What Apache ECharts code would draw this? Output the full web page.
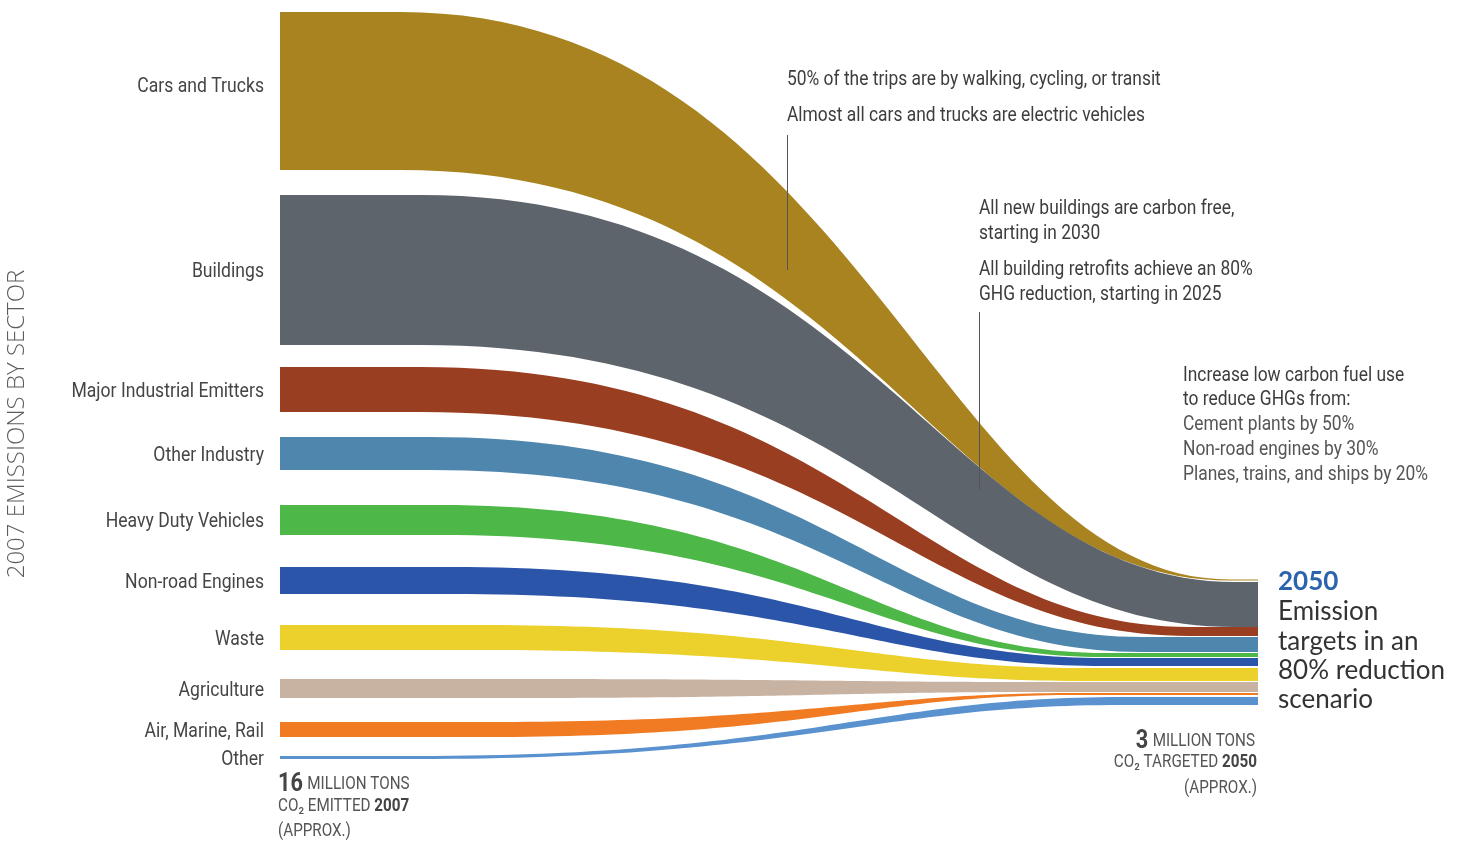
<!DOCTYPE html>
<html>
<head>
<meta charset="utf-8">
<script src="https://cdn.jsdelivr.net/npm/echarts@6/dist/echarts.min.js"></script>
<style>html,body{margin:0;padding:0;background:#fff}#c{width:1463px;height:841px}</style>
</head>
<body>
<div id="c"></div>
<script>
// ---- data (y in chart units, x in years) ----
const sectors = ['Cars and Trucks','Buildings','Major Industrial Emitters','Other Industry','Heavy Duty Vehicles','Non-road Engines','Waste','Agriculture','Air, Marine, Rail','Other'];
const top2007    = [12, 195, 367, 437, 505, 567, 625, 679, 722, 756];
const bottom2007 = [170, 345, 412, 470, 535, 594, 650, 698, 737, 759];
const top2050    = [579.5, 582, 627, 637, 653, 658, 668, 682, 693, 697];
const bottom2050 = [580.5, 627, 636, 652, 657, 666, 681, 692, 695, 705];
const bendStart  = [2012.3, 2013.2, 2013.2, 2013.6, 2014.0, 2014.5, 2015.4, 2017.0, 2016.0, 2013.0];
const bendEnd    = [2048.8, 2049.0, 2047.0, 2044.9, 2043.3, 2043.3, 2042.5, 2040.0, 2042.0, 2044.0];
const palette = ['#a8831f','#5e646b','#9a3e21','#4f86ad','#4db848','#2a55a8','#ecd02b','#c8b3a3','#f07b22','#5a91cf'];

const chart = echarts.init(document.getElementById('c'));
const COND = 0.87;
const TXT = '#3d3d3d';
const DY = 2;

function txt(text, x, y, o) {
  o = o || {};
  return {
    type: 'text', z: 100, x: x, y: y + DY, scaleX: o.scaleX == null ? COND : o.scaleX, rotation: o.rotation || 0,
    style: Object.assign({
      text: text, fill: o.fill || TXT,
      font: o.font || '20px Roboto',
      align: o.align || 'left', textAlign: o.align || 'left',
      verticalAlign: 'middle', textVerticalAlign: 'middle'
    }, o.style || {})
  };
}

const graphics = [
  txt('2007 EMISSIONS BY SECTOR', 17, 422, {rotation: Math.PI/2, align: 'center', scaleX: 1, fill: '#5c5c5c', font: '300 24px "Open Sans"'}),
  txt('50% of the trips are by walking, cycling, or transit', 787, 78),
  txt('Almost all cars and trucks are electric vehicles', 787, 114),
  {type: 'line', z: 100, shape: {x1: 787.5, y1: 135, x2: 787.5, y2: 270}, style: {stroke: '#555', lineWidth: 1}},
  txt('All new buildings are carbon free,', 979, 207),
  txt('starting in 2030', 979, 232),
  txt('All building retrofits achieve an 80%', 979, 268),
  txt('GHG reduction, starting in 2025', 979, 293),
  {type: 'line', z: 100, shape: {x1: 979.5, y1: 312, x2: 979.5, y2: 490}, style: {stroke: '#555', lineWidth: 1}},
  txt('Increase low carbon fuel use', 1183, 374),
  txt('to reduce GHGs from:', 1183, 398),
  txt('Cement plants by 50%', 1183, 423, {fill: '#555'}),
  txt('Non-road engines by 30%', 1183, 448, {fill: '#555'}),
  txt('Planes, trains, and ships by 20%', 1183, 473, {fill: '#555'}),
  txt('2050', 1278, 580, {scaleX: 1, fill: '#2b64ad', font: 'bold 26px Lato'}),
  txt('Emission', 1278, 610, {scaleX: 1, fill: '#333', font: '26px Lato'}),
  txt('targets in an', 1278, 640, {scaleX: 1, fill: '#333', font: '26px Lato'}),
  txt('80% reduction', 1278, 669, {scaleX: 1, fill: '#333', font: '26px Lato'}),
  txt('scenario', 1278, 698, {scaleX: 1, fill: '#333', font: '26px Lato'}),
  // bottom-left block
  txt('', 278, 783, {style: {text: '{b|16} {n|MILLION TONS}', rich: {b: {font: 'bold 25px Roboto', fill: '#444'}, n: {font: '17.5px Roboto', fill: '#555'}}}}),
  txt('', 278, 805, {style: {text: '{n|CO₂ EMITTED }{b|2007}', rich: {b: {font: 'bold 17.5px Roboto', fill: '#444'}, n: {font: '17.5px Roboto', fill: '#555'}}}}),
  txt('(APPROX.)', 278, 830, {fill: '#555', font: '17.5px Roboto'}),
  // bottom-right block
  txt('', 1255, 740, {align: 'right', style: {text: '{b|3} {n|MILLION TONS}', rich: {b: {font: 'bold 25px Roboto', fill: '#444'}, n: {font: '17.5px Roboto', fill: '#555'}}}}),
  txt('', 1257, 761, {align: 'right', style: {text: '{n|CO₂ TARGETED }{b|2050}', rich: {b: {font: 'bold 17.5px Roboto', fill: '#444'}, n: {font: '17.5px Roboto', fill: '#555'}}}}),
  txt('(APPROX.)', 1257, 787, {align: 'right', fill: '#555', font: '17.5px Roboto'})
];

const A = 0.55, B = 0.35;

chart.setOption({
  animation: false,
  backgroundColor: '#fff',
  grid: {left: 280, right: 205, top: 0, bottom: 0},
  xAxis: {type: 'value', min: 2007, max: 2050, show: false},
  yAxis: {type: 'value', min: 0, max: 841, inverse: true, show: false},
  graphic: graphics,
  series: [{
    type: 'custom',
    clip: false,
    z: 2,
    data: sectors.map((s, i) => ({name: s, value: [top2007[i], bottom2007[i], top2050[i], bottom2050[i], bendStart[i], bendEnd[i]]})),
    encode: {x: [4, 5], y: [0, 1, 2, 3]},
    renderItem: function (params, api) {
      const i = params.dataIndex;
      const t0 = api.value(0), b0 = api.value(1), t1 = api.value(2), b1 = api.value(3);
      const xs = api.value(4), xe = api.value(5);
      const c1 = xs + A * (xe - xs), c2 = xe - B * (xe - xs);
      const P = (x, y) => { const p = api.coord([x, y]); return p[0].toFixed(2) + ' ' + p[1].toFixed(2); };
      const d = 'M' + P(2007, t0) + ' L' + P(xs, t0) +
        ' C' + P(c1, t0) + ' ' + P(c2, t1) + ' ' + P(xe, t1) +
        ' L' + P(2050, t1) + ' L' + P(2050, b1) + ' L' + P(xe, b1) +
        ' C' + P(c2, b1) + ' ' + P(c1, b0) + ' ' + P(xs, b0) +
        ' L' + P(2007, b0) + ' Z';
      const lp = api.coord([2007, (t0 + b0) / 2]);
      return {
        type: 'group',
        children: [
          {type: 'path', shape: {pathData: d}, style: {fill: palette[i], stroke: null}},
          {type: 'text', x: lp[0] - 16, y: lp[1] + DY - (i === 0 ? 6 : 0), scaleX: 0.88,
           style: {text: sectors[i], fill: '#454545', font: '20px Roboto', align: 'right', textAlign: 'right', verticalAlign: 'middle', textVerticalAlign: 'middle'}}
        ]
      };
    }
  }]
});
</script>
</body>
</html>
